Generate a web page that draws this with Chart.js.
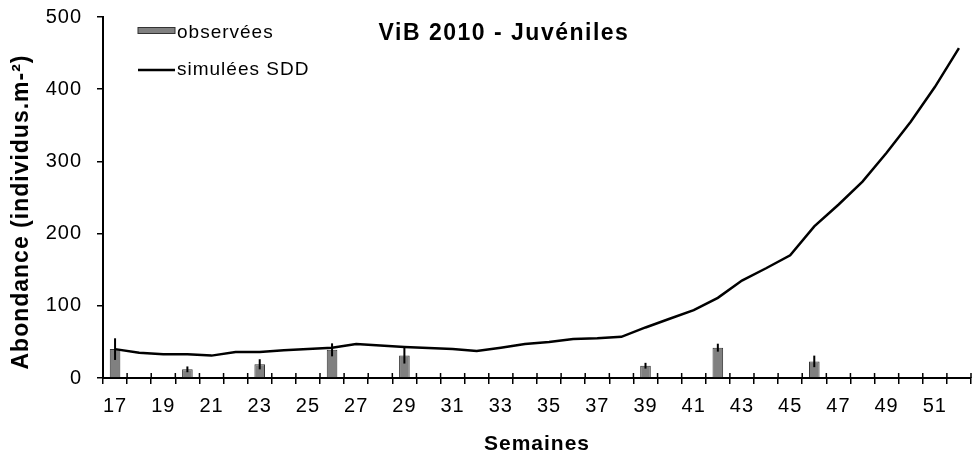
<!DOCTYPE html>
<html>
<head>
<meta charset="utf-8">
<script src="https://cdn.jsdelivr.net/npm/chart.js@4.4.1/dist/chart.umd.min.js"></script>
<style>
  html, body { margin: 0; padding: 0; background: #fff; }
  #wrap { width: 977px; height: 459px; }
</style>
</head>
<body>
<div id="wrap"><canvas id="chart" width="977" height="459"></canvas></div>
<script>
// Semaines 17 -> 52
const weeks = [17, 18, 19, 20, 21, 22, 23, 24, 25, 26, 27, 28, 29, 30, 31, 32, 33, 34,
               35, 36, 37, 38, 39, 40, 41, 42, 43, 44, 45, 46, 47, 48, 49, 50, 51, 52];

// abondances observées (barres) et écart (barres d'erreur)
const observed = [40, null, null, 12, null, null, 19, null, null, 39, null, null, 31, null, null, null, null, null,
                  null, null, null, null, 17, null, null, 42, null, null, null, 23, null, null, null, null, null, null];
const observedErr = [15, null, null, 4, null, null, 7, null, null, 9, null, null, 11, null, null, null, null, null,
                     null, null, null, null, 4, null, null, 5.5, null, null, null, 8, null, null, null, null, null, null];

// simulées SDD (courbe)
const simulated = [40, 35, 33, 33, 31, 36, 36, 38.5, 40, 42, 47, 45, 43, 41.5, 40, 37.5, 42, 47,
                   50, 54, 55, 57, 70, 82, 94, 111, 135, 152, 170, 210, 240, 272, 312, 355, 403, 457];

const yTicks = [0, 100, 200, 300, 400, 500];

const chartTitle = 'ViB 2010 - Juvéniles';
const yTitle = 'Abondance (individus.m-²)';
const FONT = '"Liberation Sans", Arial, sans-serif';

Chart.defaults.font.family = FONT;
Chart.defaults.color = '#000';

// barres d'erreur + petits traits internes de l'axe X + légende + titres
const extras = {
  id: 'extras',
  beforeDraw(chart) {
    // le texte de l'original est un peu plus large
    chart.ctx.letterSpacing = '1px';
  },
  afterDatasetsDraw(chart) {
    const ctx = chart.ctx;
    const x = chart.scales.x, y = chart.scales.y;
    ctx.save();
    ctx.strokeStyle = '#000';
    ctx.lineWidth = 2;
    observed.forEach((v, i) => {
      if (v === null) return;
      const e = observedErr[i];
      const px = x.getPixelForValue(i);
      ctx.beginPath();
      ctx.moveTo(px, y.getPixelForValue(v + e));
      ctx.lineTo(px, y.getPixelForValue(Math.max(0, v - e)));
      ctx.stroke();
    });
    ctx.restore();
  },
  afterDraw(chart) {
    const ctx = chart.ctx;
    const x = chart.scales.x;
    const area = chart.chartArea;
    ctx.save();
    // traits de graduation au-dessus de l'axe
    const step = x.getPixelForValue(1) - x.getPixelForValue(0);
    ctx.strokeStyle = '#000';
    ctx.lineWidth = 1.5;
    for (let i = 0; i <= weeks.length; i++) {
      const px = x.getPixelForValue(i) - step / 2;
      ctx.beginPath();
      ctx.moveTo(px, area.bottom - 5);
      ctx.lineTo(px, area.bottom);
      ctx.stroke();
    }

    // légende
    const ds = chart.data.datasets;
    ctx.fillStyle = ds[0].backgroundColor;
    ctx.fillRect(138, 27.5, 37, 6);
    ctx.strokeStyle = '#333';
    ctx.lineWidth = 1;
    ctx.strokeRect(138, 27.5, 37, 6);
    ctx.strokeStyle = ds[1].borderColor;
    ctx.lineWidth = 2.5;
    ctx.beginPath();
    ctx.moveTo(138, 70);
    ctx.lineTo(175, 70);
    ctx.stroke();
    ctx.fillStyle = '#000';
    ctx.font = '19px ' + FONT;
    ctx.letterSpacing = '1px';
    ctx.textAlign = 'left';
    ctx.textBaseline = 'alphabetic';
    ctx.fillText(ds[0].label, 177, 38);
    ctx.fillText(ds[1].label, 177, 75);

    // titre
    ctx.font = 'bold 23px ' + FONT;
    ctx.letterSpacing = '1.5px';
    ctx.textAlign = 'center';
    ctx.fillText(chartTitle, 504, 40);

    // titre de l'axe Y
    ctx.font = 'bold 23px ' + FONT;
    ctx.letterSpacing = '1px';
    ctx.translate(27.5, 212);
    ctx.rotate(-Math.PI / 2);
    ctx.fillText(yTitle, 0, 0);
    ctx.restore();
  }
};

new Chart(document.getElementById('chart'), {
  type: 'bar',
  data: {
    labels: weeks,
    datasets: [
      {
        type: 'bar',
        label: 'observées',
        data: observed,
        backgroundColor: '#808080',
        borderColor: '#333',
        borderWidth: 1,
        barPercentage: 0.44,
        categoryPercentage: 1,
        order: 2
      },
      {
        type: 'line',
        label: 'simulées SDD',
        data: simulated,
        borderColor: '#000',
        borderWidth: 2.5,
        pointRadius: 0,
        tension: 0,
        fill: false,
        order: 1
      }
    ]
  },
  options: {
    responsive: false,
    animation: false,
    layout: { padding: { top: 17, right: 6, left: 0, bottom: 0 } },
    plugins: {
      legend: { display: false },
      tooltip: { enabled: false }
    },
    scales: {
      x: {
        offset: true,
        grid: { offset: true, drawOnChartArea: false, drawTicks: true, tickLength: 6, color: '#000', lineWidth: 1.5 },
        border: { display: true, color: '#000', width: 2 },
        ticks: {
          autoSkip: false,
          maxRotation: 0,
          padding: 10,
          font: { size: 20 },
          callback: (val, i) => (i % 2 === 0 ? weeks[i] : '')
        },
        title: { display: true, text: 'Semaines', font: { size: 21, weight: 'bold' }, padding: { top: 0, bottom: 2 } },
        afterFit: (s) => { s.height = 81; s.paddingLeft = 0; s.paddingRight = 0; }
      },
      y: {
        min: 0,
        max: 500,
        afterBuildTicks: (s) => { s.ticks = yTicks.map(v => ({ value: v })); },
        grid: { drawOnChartArea: false, drawTicks: true, tickLength: 6, color: '#000', lineWidth: 1.5 },
        border: { display: true, color: '#000', width: 2 },
        ticks: { padding: 15, font: { size: 20 } },
        title: { display: false },
        afterFit: (s) => { s.width = 103; s.paddingTop = 0; s.paddingBottom = 0; }
      }
    }
  },
  plugins: [extras]
});
</script>
</body>
</html>
